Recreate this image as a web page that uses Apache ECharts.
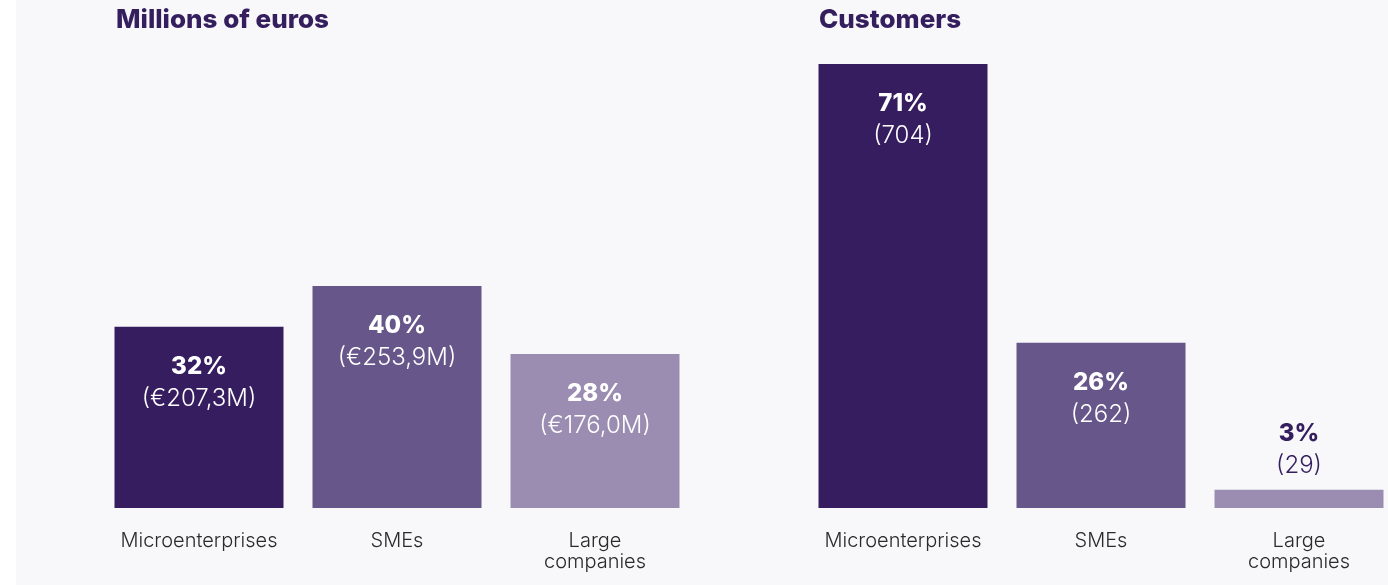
<!DOCTYPE html>
<html>
<head>
<meta charset="utf-8">
<script src="https://cdn.jsdelivr.net/npm/echarts@6/dist/echarts.min.js"></script>
<style>
  html, body { margin: 0; padding: 0; background: #ffffff; overflow: hidden; width: 1388px; height: 585px; }
  #chart { width: 1420px; height: 585px; background: linear-gradient(to right, #ffffff 16px, #f8f8fb 16px); }
</style>
</head>
<body>
<div id="chart"></div>
<script>
// ---- data ----
const categories = ['Microenterprises', 'SMEs', 'Large\ncompanies'];
const eurosValues = [207.3, 253.9, 176.0];      // millions of euros
const eurosShares = [32, 40, 28];               // %
const customerValues = [704, 262, 29];          // customers
const customerShares = [71, 26, 3];             // %
const titles = ['Millions of euros', 'Customers'];

// ---- styles ----
const barColors = ['#351d5f', '#67568a', '#9a8db1'];
const darkText = '#351e5e';
const font = 'Inter, "Noto Sans", sans-serif';

function fmtEuro(v) { return '(€' + v.toFixed(1).replace('.', ',') + 'M)'; }
function fmtCount(v) { return '(' + v + ')'; }

function buildData(values, shares, fmt) {
  const max = Math.max.apply(null, values);
  return values.map((v, i) => {
    const short = v / max < 0.1;
    return {
      value: v,
      itemStyle: { color: barColors[i] },
      label: {
        show: true,
        position: short ? 'top' : 'insideTop',
        distance: short ? 8 : 24,
        formatter: '{p|' + shares[i] + '%}\n{v|' + fmt(v) + '}',
        rich: {
          p: { fontFamily: font, fontSize: 24, fontWeight: 800, lineHeight: 32, color: short ? darkText : '#ffffff', align: 'center' },
          v: { fontFamily: font, fontSize: 24, fontWeight: 300, lineHeight: 32, color: short ? darkText : '#ffffff', align: 'center' }
        }
      }
    };
  });
}

const axisX = (gi) => ({
  type: 'category',
  gridIndex: gi,
  data: categories,
  axisLine: { show: false },
  axisTick: { show: false },
  splitLine: { show: false },
  axisLabel: { color: '#2b2b2b', fontFamily: font, fontSize: 20, fontWeight: 300, lineHeight: 21, margin: 22, interval: 0 }
});
const axisY = (gi) => ({
  type: 'value', gridIndex: gi, min: 0, max: 'dataMax', show: false,
  splitLine: { show: false }
});

const chart = echarts.init(document.getElementById('chart'), null, { renderer: 'canvas' });
chart.setOption({
  animation: false,
  backgroundColor: 'transparent',
  title: [
    { text: titles[0], left: 116, top: 7, padding: 0, textStyle: { fontFamily: font, fontSize: 26, fontWeight: 800, color: darkText } },
    { text: titles[1], left: 819, top: 7, padding: 0, textStyle: { fontFamily: font, fontSize: 26, fontWeight: 800, color: darkText } }
  ],
  grid: [
    { left: 100, width: 594, top: 286, bottom: 77 },
    { left: 804, width: 594, top: 64, bottom: 77 }
  ],
  xAxis: [axisX(0), axisX(1)],
  yAxis: [axisY(0), axisY(1)],
  series: [
    { type: 'bar', xAxisIndex: 0, yAxisIndex: 0, barWidth: 169, data: buildData(eurosValues, eurosShares, fmtEuro) },
    { type: 'bar', xAxisIndex: 1, yAxisIndex: 1, barWidth: 169, data: buildData(customerValues, customerShares, fmtCount) }
  ]
});
</script>
</body>
</html>
